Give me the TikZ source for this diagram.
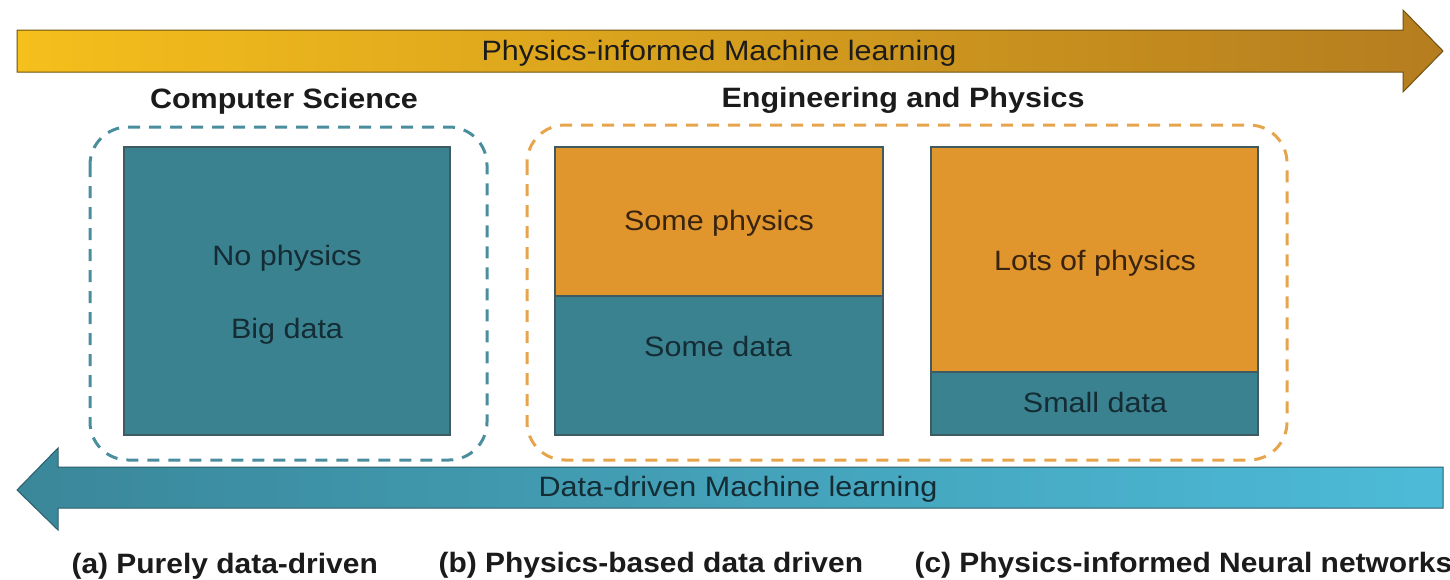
\documentclass[tikz,border=0pt]{standalone}
\usepackage{fontspec}
\setmainfont{Liberation Sans}
\newfontfamily\widefont[FakeStretch=1.09]{Liberation Sans}
\newfontfamily\capfont[FakeStretch=1.07]{Liberation Sans}
\definecolor{gold}{HTML}{F5BF1C}
\definecolor{bronze}{HTML}{B57D1F}
\definecolor{goldline}{HTML}{6E5214}
\definecolor{tealdark}{HTML}{3A8799}
\definecolor{teallight}{HTML}{4DBBD8}
\definecolor{tealline}{HTML}{2D5E6A}
\definecolor{boxteal}{HTML}{3A8290}
\definecolor{boxorange}{HTML}{E0962C}
\definecolor{boxline}{HTML}{3F5A60}
\definecolor{dashteal}{HTML}{4A8E9E}
\definecolor{dashorange}{HTML}{E6A54C}
\definecolor{ink}{HTML}{1B1B1B}
\definecolor{inkteal}{HTML}{142C34}
\definecolor{inkbrown}{HTML}{3A2410}
\begin{document}
\begin{tikzpicture}[x=1pt,y=-1pt,
  bigtxt/.style={font=\widefont\fontsize{28}{32}\selectfont, text=inkteal, anchor=base},
  headtxt/.style={font=\widefont\fontsize{28}{32}\selectfont\bfseries, text=ink, anchor=base},
  captxt/.style={font=\capfont\fontsize{28}{32}\selectfont\bfseries, text=ink, anchor=base west},
  tealbox/.style={draw=boxline, line width=1.2pt, fill=boxteal},
  orangebox/.style={draw=boxline, line width=1.2pt, fill=boxorange},
  group/.style={line width=3pt, rounded corners=38pt, dash pattern=on 12pt off 9pt}]
\useasboundingbox (0,0) rectangle (1450,579);

% top arrow: physics-informed direction
\draw[draw=goldline, line width=1pt, left color=gold, right color=bronze]
  (17,30) -- (1403,30) -- (1403,10) -- (1443,51) -- (1403,92) -- (1403,72) -- (17,72) -- cycle;
\node[bigtxt, text=ink] (toplabel) at (719,60) {Physics-informed Machine learning};

% bottom arrow: data-driven direction
\draw[draw=tealline, line width=1pt, left color=tealdark, right color=teallight]
  (1443,467) -- (58,467) -- (58,448) -- (17,490) -- (58,530) -- (58,508) -- (1443,508) -- cycle;
\node[bigtxt] (botlabel) at (738,496) {Data-driven Machine learning};

% group headings
\node[headtxt] (cs) at (284,108) {Computer Science};
\node[headtxt] (ep) at (903,107) {Engineering and Physics};

% dashed groups
\draw[group, draw=dashteal] (90,127) rectangle (487,460);
\draw[group, draw=dashorange] (527,125) rectangle (1287,460);

% (a) purely data-driven
\draw[tealbox] (124,147) rectangle (450,435);
\node[bigtxt] (nophys) at (287,265) {No physics};
\node[bigtxt] (bigdata) at (287,338) {Big data};

% (b) physics-based data driven
\draw[orangebox] (555,147) rectangle (883,296);
\draw[tealbox] (555,296) rectangle (883,435);
\node[bigtxt, text=inkbrown] (somephys) at (719,230) {Some physics};
\node[bigtxt] (somedata) at (718,356) {Some data};

% (c) physics-informed neural networks
\draw[orangebox] (931,147) rectangle (1258,372);
\draw[tealbox] (931,372) rectangle (1258,435);
\node[bigtxt, text=inkbrown] (lotsphys) at (1095,270) {Lots of physics};
\node[bigtxt] (smalldata) at (1095,412) {Small data};

% captions
\node[captxt] (capa) at (68,573) {(a) Purely data-driven};
\node[captxt] (capb) at (435,572) {(b) Physics-based data driven};
\node[captxt] (capc) at (911,572) {(c) Physics-informed Neural networks};
\end{tikzpicture}
\end{document}
